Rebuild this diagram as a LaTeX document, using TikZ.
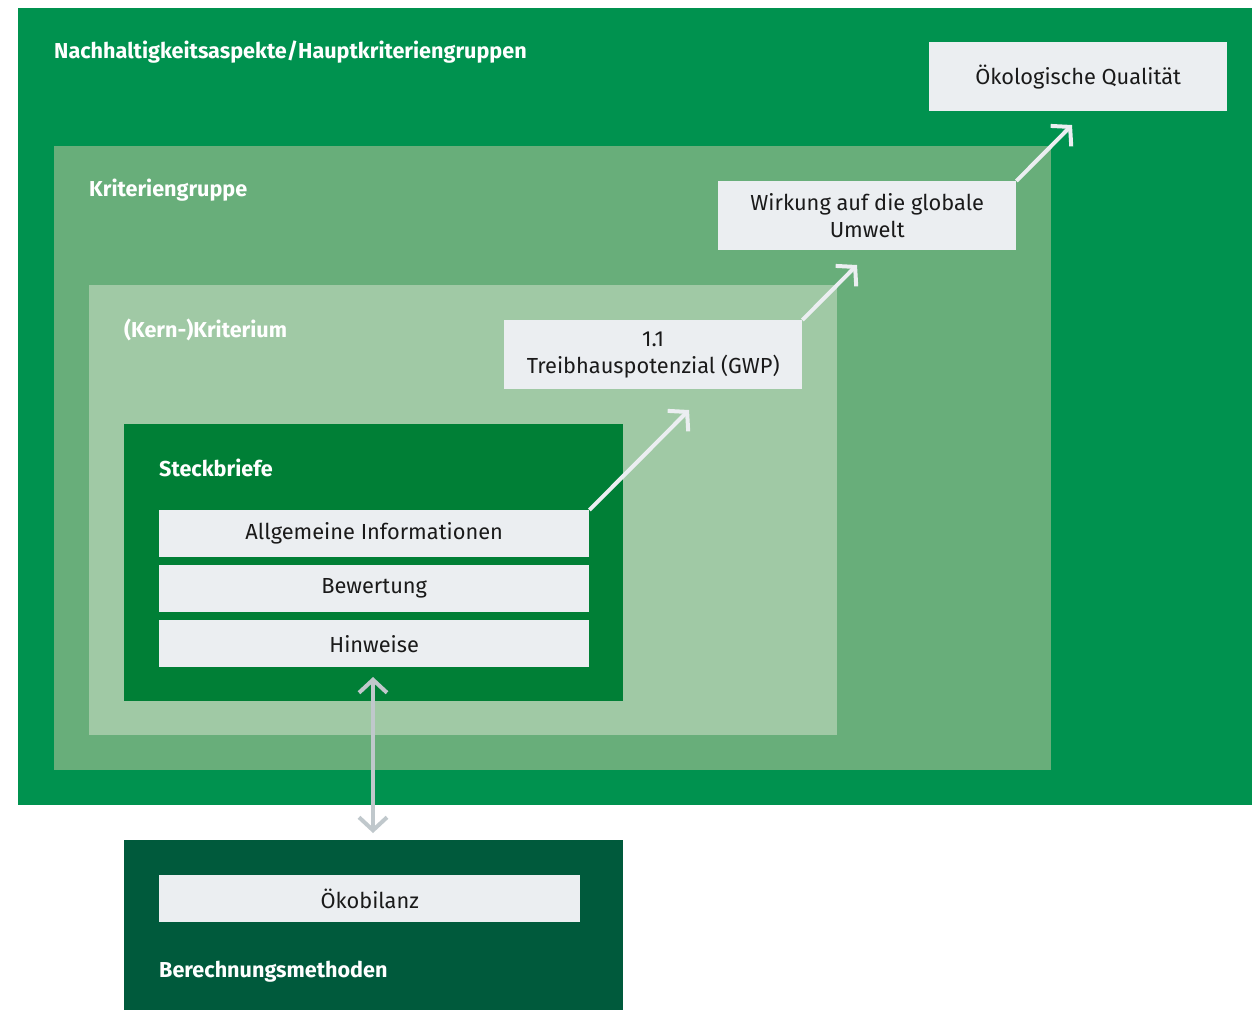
\documentclass[tikz,border=0pt]{standalone}
\usepackage{fontspec}
\setmainfont{Fira Sans}
\usetikzlibrary{arrows.meta}
\definecolor{outergreen}{HTML}{00924F}
\definecolor{groupgreen}{HTML}{68AE7A}
\definecolor{kerngreen}{HTML}{A0C9A5}
\definecolor{steckgreen}{HTML}{007F36}
\definecolor{methgreen}{HTML}{005A3C}
\definecolor{boxgray}{HTML}{EBEEF1}
\definecolor{arrowgray}{HTML}{C0C8CC}
\definecolor{textdark}{HTML}{1A1A1A}

\begin{document}
\begin{tikzpicture}[
  x = 1pt, y = -1pt,
  panel/.style = {anchor = north west, inner sep = 0pt, outer sep = 0pt},
  title/.style = {anchor = west, text = white, font = \fontsize{21.6}{26}\selectfont\bfseries, inner sep = 0pt},
  item/.style = {anchor = north west, fill = boxgray, text = textdark, inner sep = 0pt,
                 font = \fontsize{21.8}{27}\selectfont, align = center},
  up/.style = {draw = boxgray, line width = 4pt, -{Straight Barb[length=13pt, width=29pt, line width=4pt]}},
  both/.style = {draw = arrowgray, line width = 4pt,
                 {Straight Barb[length=13pt, width=28pt, line width=4pt]}-{Straight Barb[length=13pt, width=28pt, line width=4pt]}}
  ]
  \useasboundingbox (0,0) rectangle (1252,1010);
  % nested panels
  \node[panel, fill = outergreen, minimum width = 1234, minimum height = 797] (aspekte) at (18,8) {};
  \node[panel, fill = groupgreen, minimum width = 997, minimum height = 624] (gruppe) at (54,146) {};
  \node[panel, fill = kerngreen, minimum width = 748, minimum height = 450] (kern) at (89,285) {};
  \node[panel, fill = steckgreen, minimum width = 499, minimum height = 277] (steck) at (124,424) {};
  \node[panel, fill = methgreen, minimum width = 499, minimum height = 170] (methoden) at (124,840) {};

  \node[title] (taspekte) at (54,52) {Nachhaltigkeitsaspekte/Hauptkriteriengruppen};
  \node[title] (tgruppe) at (89,190) {Kriteriengruppe};
  \node[title] (tkern) at (124,330) {(Kern-)Kriterium};
  \node[title] (tsteck) at (159,468) {Steckbriefe};
  \node[title] (tmethoden) at (159,972) {Berechnungsmethoden};

  % boxes
  \node[item, minimum width = 298, minimum height = 69] (qualitaet) at (929,42) {Ökologische Qualität};
  \node[item, minimum width = 298, minimum height = 69] (wirkung) at (718,181) {Wirkung auf die globale\\Umwelt};
  \node[item, minimum width = 298, minimum height = 69] (gwp) at (504,320) {1.1\\Treibhauspotenzial (GWP)};
  \node[item, minimum width = 430, minimum height = 47] (allg) at (159,510) {Allgemeine Informationen};
  \node[item, minimum width = 430, minimum height = 47] (bew) at (159,565) {Bewertung};
  \node[item, minimum width = 430, minimum height = 47] (hinw) at (159,620) {Hinweise};
  \node[item, minimum width = 421, minimum height = 47] (oeko) at (159,875) {Ökobilanz};

  % arrows
  \coordinate (a1) at (689,410);
  \coordinate (a2) at (857,265);
  \coordinate (a3) at (1072,125);
  \coordinate (d1) at (373,677);
  \coordinate (d2) at (373,833);
  \draw[up] (allg.north east) -- (a1);
  \draw[up] (gwp.north east) -- (a2);
  \draw[up] (wirkung.north east) -- (a3);
  \draw[both] (d1) -- (d2);
\end{tikzpicture}
\end{document}
